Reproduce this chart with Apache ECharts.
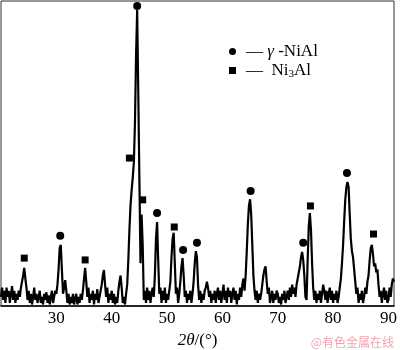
<!DOCTYPE html>
<html>
<head>
<meta charset="utf-8">
<script src="https://cdn.jsdelivr.net/npm/echarts@6/dist/echarts.min.js"></script>
<style>
  html, body { margin: 0; padding: 0; background: #fff; }
  #xrd { width: 400px; height: 350px; }
</style>
</head>
<body>
<div id="xrd"></div>
<script>
// 2theta sampled every 0.2 deg, one block of intensities per 10 deg
var step = 0.2;
var int20 = [3, 6, 2, 5, 1, 6, 3, 5, 1, 4, 6.5, 2, 5, 1, 4, 2, 5, 3, 6, 8, 10, 12.5, 9, 6, 2, 5, 1, 4, 0.5, 3, 6, 2, 4, 1, 3, 5, 1, 3, 0.5, 4, 2, 4.5, 1, 3.5, 0.5, 3, 5, 1, 3, 5];
var int30 = [4, 7, 12, 19, 20, 12, 4, 6, 8.5, 5, 1, 4, 0.5, 3, 1, 4, 0.5, 2.5, 4, 0.5, 3, 1, 4, 2, 5, 9, 12.5, 8, 3, 6, 1, 4, 2, 5, 0.5, 4, 2, 5.5, 1, 3, 5, 7, 10, 11.8, 7, 3, 6, 1, 4, 2];
var int40 = [5, 1, 4, 0.5, 3, 1, 5, 8, 10, 6, 1, 3, 0.5, 4, 7, 15, 25, 33, 38, 42, 47, 60, 82, 97, 70, 42, 14, 30, 20, 2, 5, 1, 6, 2, 5, 1, 4, 6, 3, 10, 22, 27.5, 15, 4, 6, 1, 5, 2, 6, 1];
var int50 = [4, 2, 5, 8, 16, 22, 24, 14, 4, 6, 1, 4, 8, 13, 15.7, 10, 3, 5, 1, 4, 2, 5, 1, 4, 8, 14, 18, 16, 7, 2, 5, 1, 4, 2, 5, 6, 8, 6, 3, 5, 1, 4, 2, 5, 1, 4, 6, 2, 5, 1];
var int60 = [4, 7, 2, 5, 1, 6, 3, 5, 1, 4, 6, 2, 5, 0.5, 4, 2, 6, 3, 7, 9, 5, 10, 18, 27, 33, 35, 30, 20, 10, 5, 2, 5, 1, 4, 2, 4, 7, 10, 12, 13, 8, 4, 6, 1, 3, 5, 1, 4, 2, 5];
var int70 = [4, 1, 3, 0.5, 4, 2, 5, 1, 3, 5, 2, 6, 3, 7, 4, 6, 3, 7, 9, 11, 13, 16, 17.7, 15, 10, 3, 2, 15, 26, 30.5, 25, 14, 6, 2, 5, 1, 4, 2, 5, 1, 4, 7, 5, 2, 5, 1, 4, 6, 2, 5];
var int80 = [1, 4, 2, 5, 1, 3, 6, 9, 14, 20, 28, 35, 39, 40.7, 39, 30, 22, 18, 16, 12, 8, 4, 6, 1, 4, 2, 5, 1, 3, 6, 4, 8, 10, 15, 19, 20, 17, 13, 14, 11, 12, 7, 3, 5, 1, 4, 6, 2, 5, 1];
var int90 = [2, 6, 3, 7, 9, 8];

var blockStarts = [20, 30, 40, 50, 60, 70, 80, 90];
var blocks = [int20, int30, int40, int50, int60, int70, int80, int90];

// peak markers [2theta, height]
var nialPeaks = [[30.7, 23], [44.6, 98.4], [48.2, 30.5], [52.9, 18.4], [55.4, 20.7], [65.1, 37.7], [74.6, 20.7], [82.5, 43.6]];
var ni3alPeaks = [[24.2, 15.7], [35.2, 15.1], [43.2, 48.5], [45.6, 34.8], [51.3, 25.9], [75.9, 32.8], [87.3, 23.6]];

var xTicks = [20, 30, 40, 50, 60, 70, 80, 90];

var pattern = [];
for (var b = 0; b < blocks.length; b++) {
    for (var i = 0; i < blocks[b].length; i++) {
        pattern.push([+(blockStarts[b] + i * step).toFixed(1), blocks[b][i]]);
    }
}

var serif = 'Liberation Serif, Times New Roman, serif';

var chart = echarts.init(document.getElementById('xrd'));
chart.setOption({
    animation: false,
    backgroundColor: '#fff',
    grid: {
        left: 1, right: 6, top: 1, bottom: 44,
        outerBoundsMode: 'none',
        containLabel: false,
        show: true, borderColor: '#333', borderWidth: 1
    },
    legend: {
        orient: 'vertical',
        left: 224, top: 38,
        itemWidth: 7, itemHeight: 7, itemGap: 2,
        selectedMode: false,
        data: [
            { name: 'γ-NiAl', icon: 'circle', itemStyle: { color: '#000', opacity: 1 } },
            { name: 'Ni3Al', icon: 'rect', itemStyle: { color: '#000', opacity: 1 } }
        ],
        formatter: function (name) {
            if (name == 'Ni3Al') return '{d|—}  Ni{s|3}Al';
            return '{d|—} {g|γ} -NiAl';
        },
        textStyle: {
            fontFamily: serif, fontSize: 17, color: '#000',
            rich: {
                d: { fontFamily: serif, fontSize: 17, color: '#000', padding: [0, 0, 0, 5] },
                g: { fontFamily: serif, fontSize: 17, fontStyle: 'italic', color: '#000' },
                s: { fontFamily: serif, fontSize: 11, color: '#000', verticalAlign: 'bottom', padding: [7, 0, 0, 0] }
            }
        }
    },
    xAxis: {
        type: 'value',
        min: 20, max: 91, interval: 10,
        name: '{i|2θ}/(°)',
        nameLocation: 'middle',
        nameGap: 24,
        nameTextStyle: {
            fontFamily: serif, fontSize: 17, color: '#000',
            rich: { i: { fontFamily: serif, fontSize: 17, fontStyle: 'italic', color: '#000' } }
        },
        axisLine: { lineStyle: { color: '#000', width: 1.5 } },
        axisTick: { show: false },
        splitLine: { show: false },
        axisLabel: {
            showMinLabel: false,
            margin: 4,
            fontFamily: serif, fontSize: 17, color: '#000',
            customValues: xTicks
        }
    },
    yAxis: {
        type: 'value',
        min: 0, max: 100,
        show: false
    },
    graphic: [{
        type: 'text',
        right: 6, bottom: 2,
        style: {
            text: '@有色金属在线',
            font: '12px "Noto Sans CJK SC"',
            fill: '#f3a3ad'
        }
    }],
    series: [
        {
            name: 'pattern',
            type: 'line',
            data: pattern,
            symbol: 'none',
            sampling: null,
            lineStyle: { color: '#000', width: 2.2 }
        },
        {
            name: 'γ-NiAl',
            type: 'scatter',
            symbol: 'circle',
            symbolSize: 8,
            itemStyle: { color: '#000', opacity: 1 },
            data: nialPeaks
        },
        {
            name: 'Ni3Al',
            type: 'scatter',
            symbol: 'rect',
            symbolSize: 7,
            itemStyle: { color: '#000', opacity: 1 },
            data: ni3alPeaks
        }
    ]
});
</script>
</body>
</html>
